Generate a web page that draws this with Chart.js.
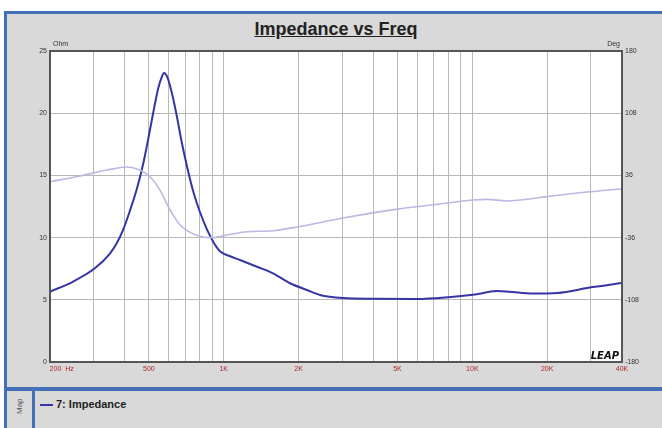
<!DOCTYPE html>
<html>
<head>
<meta charset="utf-8">
<script src="https://cdn.jsdelivr.net/npm/chart.js@4"></script>
<style>
  html, body { margin: 0; padding: 0; background: #fff; }
  body { width: 662px; height: 428px; position: relative; overflow: hidden; font-family: "Liberation Sans", Arial, sans-serif; }
  .panel { position: absolute; background: #d9d9d9; }
  .blue { position: absolute; background: #4470b8; }
  #title { position: absolute; left: 50px; width: 572px; top: 19px; text-align: center; font-size: 18px; font-weight: bold; color: #222; text-decoration: underline; }
  #wrap { position: absolute; left: 7px; top: 14px; width: 655px; height: 373px; }
  #map { position: absolute; left: 15px; top: 414px; font-size: 8px; color: #555; transform: rotate(-90deg); transform-origin: left top; }
  #legend { position: absolute; left: 40px; top: 398px; font-size: 11px; font-weight: bold; color: #222; }
  #legend span { display: inline-block; width: 13px; height: 2px; background: #3535a5; vertical-align: middle; margin-right: 3px; }
</style>
</head>
<body>
<div class="panel" style="left:4px;top:11px;width:658px;height:417px;"></div>
<div class="blue" style="left:4px;top:11px;width:658px;height:3px;"></div>
<div class="blue" style="left:4px;top:11px;width:3px;height:417px;"></div>
<div class="blue" style="left:4px;top:387px;width:658px;height:4px;"></div>
<div class="blue" style="left:32px;top:391px;width:3px;height:37px;"></div>
<div id="title">Impedance vs Freq</div>
<div id="wrap"><canvas id="c"></canvas></div>
<div id="map">Map</div>
<div id="legend"><span></span>7: Impedance</div>
<script>
// impedance magnitude (Ohm)
const impFreq = [200, 247, 303, 349, 370, 394, 420, 447, 475, 497, 521, 545, 563, 575, 593, 617, 647, 677, 710, 754, 802, 854, 908, 966, 1060, 1162, 1360, 1578, 1847, 2162, 2438, 3018, 4000, 5985, 8000, 10060, 12560, 14000, 17540, 22000, 30000, 40000];
const impOhm  = [5.65, 6.45, 7.53, 8.74, 9.5, 10.65, 12.2, 13.9, 16.0, 17.95, 20.1, 22.0, 22.9, 23.23, 22.9, 21.7, 19.8, 17.7, 15.8, 13.7, 12.06, 10.7, 9.65, 8.9, 8.5, 8.2, 7.66, 7.13, 6.33, 5.79, 5.39, 5.14, 5.08, 5.06, 5.2, 5.4, 5.7, 5.65, 5.5, 5.55, 6.0, 6.35];

// phase (Deg)
const phaseFreq = [200, 264, 339, 408, 460, 505, 554, 608, 667, 732, 825, 905, 1030, 1240, 1578, 2000, 3018, 5000, 7000, 10060, 11460, 13780, 15530, 19970, 29700, 40000];
const phaseDeg  = [28.7, 35.3, 42.2, 45.7, 42.2, 34.5, 19, -4, -21.4, -30, -35.3, -36, -33, -29.2, -28, -23.4, -13.3, -3, 2, 7.5, 8.3, 6.4, 7.5, 11.4, 17.1, 20.6];

// x grid lines and the labels shown under them
const gridFreqs = [200, 300, 400, 500, 600, 700, 800, 900, 1000, 2000, 3000, 4000, 5000, 6000, 7000, 8000, 9000, 10000, 20000, 30000, 40000];
const xLabels = { 200: ' '.repeat(12) + '200  Hz', 500: '500', 1000: '1K', 2000: '2K', 5000: '5K', 10000: '10K', 20000: '20K', 40000: '40K' };
const degTicks = [-180, -108, -36, 36, 108, 180];

const pts = (xs, ys) => xs.map((x, i) => ({ x: x, y: ys[i] }));

const plotDeco = {
  id: 'plotDeco',
  beforeDraw(chart) {
    const { ctx, chartArea: a } = chart;
    ctx.save();
    ctx.fillStyle = '#fff';
    ctx.fillRect(a.left, a.top, a.right - a.left, a.bottom - a.top);
    ctx.restore();
  },
  afterDraw(chart) {
    const { ctx, chartArea: a } = chart;
    ctx.save();
    ctx.strokeStyle = '#555';
    ctx.lineWidth = 2;
    ctx.strokeRect(a.left, a.top, a.right - a.left, a.bottom - a.top);
    ctx.fillStyle = '#333';
    ctx.font = '7px "Liberation Sans", Arial, sans-serif';
    ctx.textBaseline = 'bottom';
    ctx.textAlign = 'left';
    ctx.fillText('Ohm', a.left + 3, a.top - 3);
    ctx.textAlign = 'right';
    ctx.fillText('Deg', a.right - 2, a.top - 3);
    ctx.fillStyle = '#111';
    ctx.font = 'italic bold 10px "DejaVu Sans", sans-serif';
    ctx.textBaseline = 'alphabetic';
    ctx.fillText('LEAP', a.right - 3, a.bottom - 3);
    ctx.restore();
  }
};

new Chart(document.getElementById('c'), {
  type: 'line',
  data: {
    datasets: [
      { label: 'Phase', data: pts(phaseFreq, phaseDeg), yAxisID: 'y1', borderColor: '#b9b9e3', borderWidth: 1.6, pointRadius: 0, cubicInterpolationMode: 'monotone' },
      { label: '7: Impedance', data: pts(impFreq, impOhm), yAxisID: 'y', borderColor: '#3535a5', borderWidth: 2, pointRadius: 0, cubicInterpolationMode: 'monotone' }
    ]
  },
  options: {
    responsive: true,
    maintainAspectRatio: false,
    animation: false,
    layout: { padding: { top: 37, left: 0, right: 0, bottom: 0 } },
    plugins: { legend: { display: false }, tooltip: { enabled: false } },
    scales: {
      x: {
        type: 'logarithmic', min: 200, max: 40000,
        afterBuildTicks: s => { s.ticks = gridFreqs.map(v => ({ value: v })); },
        afterFit: s => { s.height = 25; },
        grid: { color: '#b8b8b8', lineWidth: 1, drawTicks: false },
        border: { display: false },
        ticks: {
          autoSkip: false, maxRotation: 0, padding: 3,
          color: '#b02525', font: { size: 7, family: '"Liberation Sans", Arial, sans-serif' },
          callback: v => xLabels[v] || ''
        }
      },
      y: {
        position: 'left', min: 0, max: 25,
        afterFit: s => { s.width = 43; },
        grid: { color: '#b8b8b8', lineWidth: 1, drawTicks: false },
        border: { display: false },
        ticks: { stepSize: 5, padding: 3, color: '#333', font: { size: 7, family: '"Liberation Sans", Arial, sans-serif' } }
      },
      y1: {
        position: 'right', min: -180, max: 180,
        afterFit: s => { s.width = 40; },
        afterBuildTicks: s => { s.ticks = degTicks.map(v => ({ value: v })); },
        grid: { display: false, drawTicks: false },
        border: { display: false },
        ticks: { padding: 3, color: '#333', font: { size: 7, family: '"Liberation Sans", Arial, sans-serif' } }
      }
    }
  },
  plugins: [plotDeco]
});
</script>
</body>
</html>
